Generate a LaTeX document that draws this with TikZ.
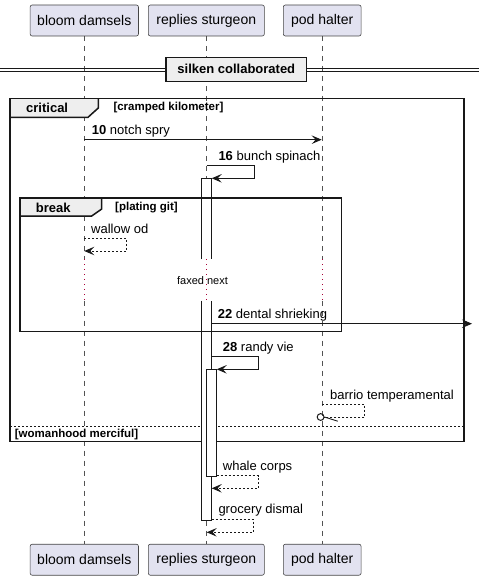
\documentclass[tikz,border=0pt]{standalone}
\usepackage{fontspec}
\setmainfont{Liberation Sans}
\usetikzlibrary{arrows.meta}
\definecolor{pbox}{HTML}{E2E2F0}
\definecolor{pline}{HTML}{181818}
\definecolor{tabfill}{HTML}{EEEEEE}
\definecolor{delaycol}{HTML}{A80036}
\begin{document}
\begin{tikzpicture}[x=1pt,y=-1pt,
  participant/.style={draw=pline!80, fill=pbox, rounded corners=2pt, line width=0.6pt,
    inner sep=0pt, minimum height=31pt, font=\fontsize{14}{16}\selectfont},
  lifeline/.style={draw=pline!75, line width=0.5pt, dash pattern=on 5pt off 5pt},
  delayline/.style={draw=delaycol, line width=0.8pt, dash pattern=on 1pt off 4pt},
  msg/.style={draw=pline, line width=0.8pt, -{Stealth[length=10pt,width=8.5pt,inset=4pt]}},
  ret/.style={msg, dash pattern=on 2pt off 2pt},
  retplain/.style={draw=pline, line width=0.8pt, dash pattern=on 2pt off 2pt},
  lbl/.style={anchor=base west, inner sep=0pt, font=\fontsize{13}{15}\selectfont},
  framebox/.style={draw=pline, line width=1.5pt},
  tab/.style={fill=tabfill},
  tablbl/.style={anchor=base west, inner sep=0pt, font=\fontsize{13}{15}\selectfont\bfseries},
  condlbl/.style={anchor=base west, inner sep=0pt, font=\fontsize{11.5}{13}\selectfont\bfseries},
  actbox/.style={fill=white},
  actedge/.style={draw=pline, line width=0.8pt}
]
\useasboundingbox (0,0) rectangle (479,580);

% lifelines
\foreach \lx in {84.3,206.7,322.3}{
  \draw[lifeline] (\lx,36) -- (\lx,259.3);
  \draw[lifeline] (\lx,300.7) -- (\lx,544.3);
  \draw[delayline] (\lx,259.3) -- (\lx,300.7);
}

% participants
\node[participant, minimum width=108.3pt] (pA) at (84.3,20.5) {bloom damsels};
\node[participant, minimum width=116pt] (pB) at (206.3,20.5) {replies sturgeon};
\node[participant, minimum width=77.7pt] (pC) at (322.2,20.5) {pod halter};
\node[participant, minimum width=108.3pt] (qA) at (84.3,559.7) {bloom damsels};
\node[participant, minimum width=116pt] (qB) at (206.3,559.7) {replies sturgeon};
\node[participant, minimum width=77.7pt] (qC) at (322.2,559.7) {pod halter};

% divider
\draw[draw=pline, line width=1pt] (0,68.3) -- (479,68.3);
\draw[draw=pline, line width=1pt] (0,71.7) -- (479,71.7);
\node[draw=pline, line width=1.5pt, fill=tabfill, minimum width=140.7pt, minimum height=24pt, inner sep=0pt,
  font=\fontsize{13}{15}\selectfont\bfseries] (div) at (236.3,69.3) {silken collaborated};

% critical frame
\draw[tab] (10,98.3) -- (98.3,98.3) -- (98.3,108) -- (88,117.3) -- (10,117.3) -- cycle;
\draw[draw=pline, line width=1.5pt] (10,117.3) -- (88,117.3) -- (98.3,108) -- (98.3,98.3);
\draw[framebox] (10,98.3) rectangle (464,441.7);
\node[tablbl] (critT) at (26,112.3) {critical};
\node[condlbl] (critC) at (113.3,110.7) {[cramped kilometer]};
\draw[draw=pline, line width=0.8pt, dash pattern=on 2pt off 2pt] (10,426.3) -- (464,426.3);
\node[condlbl] (elseC) at (14.7,437.7) {[womanhood merciful]};

% activation boxes
\fill[actbox] (201.7,178.3) rectangle (211.7,520);
\draw[actedge] (201.7,259.3) -- (201.7,178.3) -- (211.7,178.3) -- (211.7,259.3);
\draw[actedge] (201.7,300.7) -- (201.7,520) -- (211.7,520) -- (211.7,300.7);
\draw[delayline] (206.7,259.3) -- (206.7,300.7);
\draw[actedge, fill=white] (206.7,369.3) rectangle (216.7,476);

% coordinates on lifelines
\coordinate (a10) at (84.3,139.7);
\coordinate (c10) at (321.7,139.7);
\coordinate (b16s) at (206.7,165.7);
\coordinate (b16e) at (211.7,178.3);
\coordinate (a20s) at (84.3,238.3);
\coordinate (a20e) at (84.3,251);
\coordinate (b22) at (211.7,323.7);
\coordinate (out22) at (472,323.7);
\coordinate (b28s) at (211.7,356);
\coordinate (b28e) at (216.7,369.3);
\coordinate (c30s) at (322.3,404);
\coordinate (c30e) at (324,417.3);
\coordinate (b32s) at (216.7,475.7);
\coordinate (b32e) at (211.7,488.3);
\coordinate (b34s) at (211.7,519.3);
\coordinate (b34e) at (206.7,532.3);

% break frame
\draw[tab] (20,198) -- (101.7,198) -- (101.7,209) -- (91.7,216) -- (20,216) -- cycle;
\draw[draw=pline, line width=1.5pt] (20,216) -- (91.7,216) -- (101.7,209) -- (101.7,198);
\draw[framebox] (20,198) rectangle (341.7,331.7);
\node[tablbl] (brkT) at (35.7,212.3) {break};
\node[condlbl] (brkC) at (115,210.7) {[plating git]};

% messages
\draw[msg] (a10) -- (c10);
\node[lbl] (l10) at (91.7,135) {\textbf{10} notch spry};

\draw[msg] (b16s) -- (254,165.7) -- (254,178.3) -- (b16e);
\node[lbl] (l16) at (218.3,160.5) {\textbf{16} bunch spinach};

\draw[ret] (a20s) -- (126.7,238.3) -- (126.7,251) -- (a20e);
\node[lbl] (l20) at (91,233.3) {wallow od};

\node[anchor=base, inner sep=0pt, font=\fontsize{11}{13}\selectfont] (dly) at (202.5,284.3) {faxed next};

\draw[msg] (b22) -- (out22);
\node[lbl] (l22) at (217.7,318.7) {\textbf{22} dental shrieking};

\draw[msg] (b28s) -- (258.3,356) -- (258.3,369.3) -- (b28e);
\node[lbl] (l28) at (222.7,351) {\textbf{28} randy vie};

\draw[retplain] (c30s) -- (364.7,404) -- (364.7,417.3) -- (c30e);
\node[draw=pline, line width=1pt, circle, inner sep=0pt, minimum size=6.8pt] (circ) at (320.6,417) {};
\draw[draw=pline, line width=0.9pt] (circ.east) -- (337.7,421.2);
\node[lbl] (l30) at (330,399.3) {barrio temperamental};

\draw[ret] (b32s) -- (258.3,475.7) -- (258.3,488.3) -- (b32e);
\node[lbl] (l32) at (222.7,470.7) {whale corps};

\draw[ret] (b34s) -- (253.3,519.3) -- (253.3,532.3) -- (b34e);
\node[lbl] (l34) at (218.3,513.3) {grocery dismal};

\end{tikzpicture}
\end{document}
